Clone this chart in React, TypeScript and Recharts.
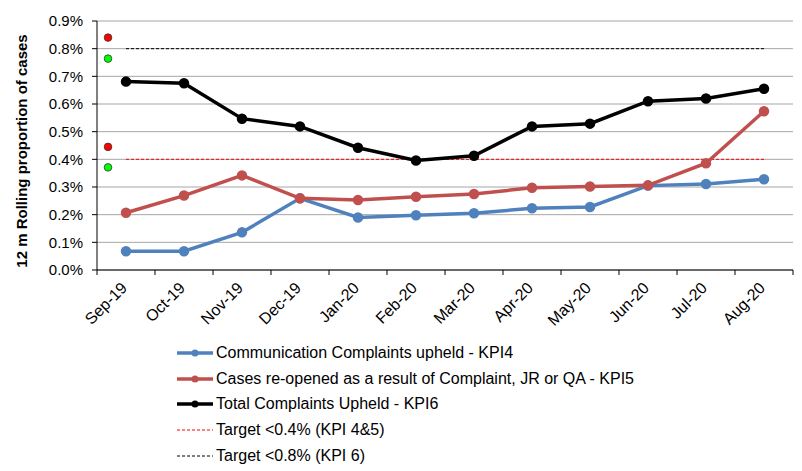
import React from 'react';
import {
  ComposedChart, Line, Scatter, XAxis, YAxis, CartesianGrid, ReferenceArea,
} from 'recharts';

// ---- data ----
const months = ['Sep-19', 'Oct-19', 'Nov-19', 'Dec-19', 'Jan-20', 'Feb-20', 'Mar-20', 'Apr-20', 'May-20', 'Jun-20', 'Jul-20', 'Aug-20'];
const kpi4 = [0.068, 0.068, 0.136, 0.259, 0.190, 0.198, 0.205, 0.223, 0.228, 0.305, 0.311, 0.328];
const kpi5 = [0.207, 0.269, 0.342, 0.259, 0.253, 0.265, 0.275, 0.297, 0.302, 0.306, 0.386, 0.574];
const kpi6 = [0.681, 0.675, 0.547, 0.519, 0.442, 0.396, 0.413, 0.519, 0.529, 0.610, 0.620, 0.655];
const target45 = [0.4, 0.4, 0.4, 0.4, 0.4, 0.4, 0.4, 0.4, 0.4, 0.4, 0.4, 0.4];
const target6 = [0.8, 0.8, 0.8, 0.8, 0.8, 0.8, 0.8, 0.8, 0.8, 0.8, 0.8, 0.8];
const yTicks = [0, 0.1, 0.2, 0.3, 0.4, 0.5, 0.6, 0.7, 0.8, 0.9];

// RAG marker dots (position on a 0..12 category-index scale)
const ragX = [0.19, 0.19, 0.19, 0.19];
const ragValues = [0.84, 0.764, 0.445, 0.371];
const ragColors = ['#FF0000', '#00FF00', '#FF0000', '#00FF00'];

const seriesNames = [
  'Communication Complaints upheld - KPI4',
  'Cases re-opened as a result of Complaint, JR or QA - KPI5',
  'Total Complaints Upheld - KPI6',
  'Target <0.4% (KPI 4&5)',
  'Target <0.8% (KPI 6)',
];

const data = months.map((m, i) => ({
  month: m,
  kpi4: kpi4[i],
  kpi5: kpi5[i],
  kpi6: kpi6[i],
  t45: target45[i],
  t6: target6[i],
}));
const ragData = ragX.map((x, i) => ({ x, v: ragValues[i], color: ragColors[i] }));

// ---- layout ----
const W = 794;
const H = 463;
const Y_AXIS_W = 89;
const MARGIN = { top: 13, right: 9, left: 0, bottom: 141 };
const X_AXIS_H = 60;
const BAND = (W - Y_AXIS_W - MARGIN.left - MARGIN.right) / months.length;
const FONT = 'Liberation Sans, Arial, sans-serif';

const BLUE = '#4F81BD';
const RED = '#C0504D';

const XTick = (props: any) => {
  const { x, y, payload, index } = props;
  const half = BAND / 2;
  const tx = x + 2;
  const ty = y + 19;
  return (
    <g>
      <line x1={x - half} y1={y} x2={x - half} y2={y + 5} stroke="#000" />
      {index === months.length - 1 && (
        <line x1={x + half} y1={y} x2={x + half} y2={y + 5} stroke="#000" />
      )}
      <text x={tx} y={ty} textAnchor="end" fontSize={16} fontFamily={FONT} fill="#000"
        transform={`rotate(-45 ${tx} ${ty})`}>{payload.value}</text>
    </g>
  );
};

const RagDot = (props: any) => {
  const { cx, cy, payload } = props;
  return <circle cx={cx} cy={cy} r={3.8} fill={payload.color} stroke="#333" strokeWidth={0.8} />;
};

const YLabel = () => (
  <text x={19} y={143} textAnchor="middle" fontSize={15} fontWeight="bold" fontFamily={FONT}
    fill="#000" transform="rotate(-90 19 143)">12 m Rolling proportion of cases</text>
);

const legendItems = [
  { name: seriesNames[0], color: BLUE, dashed: false },
  { name: seriesNames[1], color: RED, dashed: false },
  { name: seriesNames[2], color: '#000', dashed: false },
  { name: seriesNames[3], color: '#FF0000', dashed: true },
  { name: seriesNames[4], color: '#000', dashed: true },
];

export default function App() {
  return (
    <div style={{ position: 'relative', width: W, height: H }}>
      <ComposedChart width={W} height={H} data={data} margin={MARGIN}>
        <CartesianGrid vertical={false} stroke="#A6A6A6" />
        <ReferenceArea fill="none" stroke="#808080" strokeOpacity={1} fillOpacity={0} />
        <XAxis dataKey="month" scale="band" interval={0} height={X_AXIS_H} tickLine={false} tickSize={0}
          tickMargin={0} axisLine={{ stroke: '#000' }} tick={<XTick />} />
        <XAxis xAxisId="rag" type="number" dataKey="x" domain={[0, 12]} hide allowDataOverflow />
        <YAxis domain={[0, 0.9]} ticks={yTicks} width={Y_AXIS_W} tickSize={5} tickMargin={9}
          axisLine={{ stroke: '#000' }} tickLine={{ stroke: '#000' }}
          tickFormatter={(v: number) => v.toFixed(1) + '%'}
          tick={{ fontSize: 15, fill: '#000', fontFamily: FONT }}
          label={<YLabel />} />
        <Line dataKey="t45" name={seriesNames[3]} stroke="#FF0000" strokeWidth={1}
          strokeDasharray="3 2" dot={false} isAnimationActive={false} />
        <Line dataKey="t6" name={seriesNames[4]} stroke="#000" strokeWidth={1}
          strokeDasharray="3 2" dot={false} isAnimationActive={false} />
        <Line dataKey="kpi4" name={seriesNames[0]} stroke={BLUE} strokeWidth={3.5}
          dot={{ r: 3.5, fill: BLUE, stroke: BLUE }} isAnimationActive={false} />
        <Line dataKey="kpi5" name={seriesNames[1]} stroke={RED} strokeWidth={3.5}
          dot={{ r: 3.5, fill: RED, stroke: RED }} isAnimationActive={false} />
        <Line dataKey="kpi6" name={seriesNames[2]} stroke="#000" strokeWidth={3.5}
          dot={{ r: 3.5, fill: '#000', stroke: '#000' }} isAnimationActive={false} />
        <Scatter xAxisId="rag" data={ragData} dataKey="v" shape={<RagDot />} isAnimationActive={false} />
      </ComposedChart>
      <div style={{ position: 'absolute', left: 169, top: 332, fontFamily: FONT, fontSize: 16, color: '#000' }}>
        {legendItems.map((it) => (
          <div key={it.name} style={{ display: 'flex', alignItems: 'center', height: 25.7 }}>
            <svg width={38} height={12} style={{ marginRight: 1 }}>
              {it.dashed ? (
                <line x1={0} y1={6} x2={36} y2={6} stroke={it.color} strokeWidth={1} strokeDasharray="3 2" />
              ) : (
                <g>
                  <line x1={0} y1={6} x2={36} y2={6} stroke={it.color} strokeWidth={3.5} />
                  <circle cx={18} cy={6} r={3.5} fill={it.color} />
                </g>
              )}
            </svg>
            <span style={{ whiteSpace: 'nowrap' }}>{it.name}</span>
          </div>
        ))}
      </div>
    </div>
  );
}
